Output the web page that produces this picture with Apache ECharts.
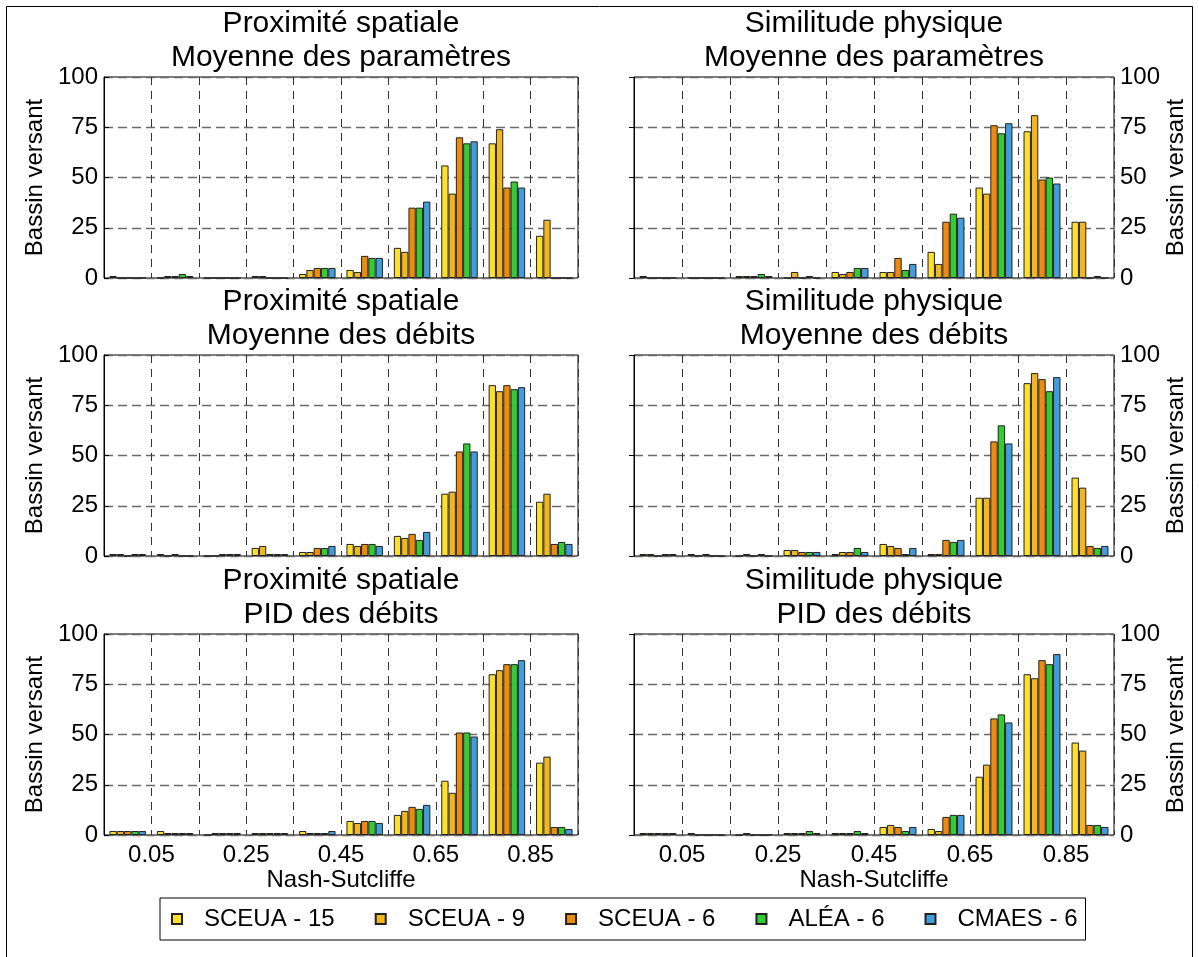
<!DOCTYPE html>
<html>
<head>
<meta charset="utf-8">
<script src="https://cdn.jsdelivr.net/npm/echarts@6/dist/echarts.min.js"></script>
<style>
  html, body { margin: 0; padding: 0; background: #fff; }
  #chart { width: 1199px; height: 957px; }
</style>
</head>
<body>
<div id="chart"></div>
<script>
// series (methods) and colours
const seriesNames = ["SCEUA - 15", "SCEUA - 9", "SCEUA - 6", "ALÉA - 6", "CMAES - 6"];
const seriesColors = ["#fde02c", "#f2b720", "#ec8c0f", "#33cc33", "#419ddb"];

// 10 Nash-Sutcliffe bins
const bins = ["0.0", "0.1", "0.2", "0.3", "0.4", "0.5", "0.6", "0.7", "0.8", "0.9"];
const xTickLabels = ["0.05", "0.25", "0.45", "0.65", "0.85"];
const yTicks = [0, 25, 50, 75, 100];

const panelTitles = [
  "Proximité spatiale\nMoyenne des paramètres",
  "Similitude physique\nMoyenne des paramètres",
  "Proximité spatiale\nMoyenne des débits",
  "Similitude physique\nMoyenne des débits",
  "Proximité spatiale\nPID des débits",
  "Similitude physique\nPID des débits"
];

// counts per bin, one row per method (SCEUA-15, SCEUA-9, SCEUA-6, ALEA-6, CMAES-6)
const proxParams = [
  [1, 0, 0, 1, 2, 4, 15, 56, 67, 21],
  [0, 1, 0, 1, 4, 3, 13, 42, 74, 29],
  [0, 1, 0, 0, 5, 11, 35, 70, 45, 0],
  [0, 2, 0, 0, 5, 10, 35, 67, 48, 0],
  [0, 1, 0, 0, 5, 10, 38, 68, 45, 0]
];
const physParams = [
  [1, 0, 1, 0, 3, 3, 13, 45, 73, 28],
  [0, 0, 1, 3, 2, 3, 7, 42, 81, 28],
  [0, 0, 1, 0, 3, 10, 28, 76, 49, 0],
  [0, 0, 2, 1, 5, 4, 32, 72, 50, 1],
  [0, 0, 1, 0, 5, 7, 30, 77, 47, 0]
];
const proxDebits = [
  [1, 1, 0, 4, 2, 6, 10, 31, 85, 27],
  [1, 0, 0, 5, 2, 5, 9, 32, 82, 31],
  [0, 1, 1, 1, 4, 6, 11, 52, 85, 6],
  [1, 0, 1, 1, 4, 6, 8, 56, 83, 7],
  [1, 0, 1, 1, 5, 5, 12, 52, 84, 6]
];
const physDebits = [
  [1, 1, 0, 3, 1, 6, 1, 29, 86, 39],
  [1, 0, 1, 3, 2, 5, 1, 29, 91, 34],
  [0, 1, 0, 2, 2, 4, 8, 57, 88, 5],
  [1, 0, 1, 2, 4, 1, 7, 65, 82, 4],
  [1, 0, 0, 2, 2, 4, 8, 56, 89, 5]
];
const proxPID = [
  [2, 2, 0, 1, 2, 7, 10, 27, 80, 36],
  [2, 1, 1, 1, 1, 6, 12, 21, 82, 39],
  [2, 1, 1, 1, 1, 7, 14, 51, 85, 4],
  [2, 1, 1, 1, 1, 7, 13, 51, 85, 4],
  [2, 1, 1, 1, 2, 6, 15, 49, 87, 3]
];
const physPID = [
  [1, 1, 0, 1, 1, 4, 3, 29, 80, 46],
  [1, 0, 1, 1, 1, 5, 2, 35, 78, 42],
  [1, 0, 0, 1, 1, 4, 9, 58, 87, 5],
  [1, 0, 0, 2, 2, 2, 10, 60, 85, 5],
  [1, 0, 0, 1, 1, 4, 10, 56, 90, 4]
];
const panels = [proxParams, physParams, proxDebits, physDebits, proxPID, physPID];

const font = '"Liberation Sans", Arial, Helvetica, sans-serif';
const colLeft = [104, 634];
const colWidth = [474, 480];
const rowTop = [77, 355, 634];
const plotHeight = 201;
const titleTop = [7, 285, 564];

const chart = echarts.init(document.getElementById("chart"));

const grid = [], xAxis = [], yAxis = [], title = [], series = [];
panels.forEach(function (data, p) {
  const col = p % 2, row = Math.floor(p / 2);
  const bottomRow = row === 2;
  grid.push({
    left: colLeft[col], top: rowTop[row], width: colWidth[col], height: plotHeight,
    show: true, borderColor: "#000", borderWidth: 1, backgroundColor: "#fff"
  });
  title.push({
    text: panelTitles[p],
    left: colLeft[col] + colWidth[col] / 2,
    top: titleTop[row],
    textAlign: "center",
    padding: 0,
    textStyle: { fontSize: 30, fontWeight: "normal", lineHeight: 34, color: "#000", fontFamily: font }
  });
  // category axis carrying the bars
  xAxis.push({
    type: "category", gridIndex: p, data: bins, show: false
  });
  // value axis for bin edges: gridlines and labels
  xAxis.push({
    type: "value", gridIndex: p, min: 0, max: 10, interval: 1, position: "bottom",
    axisLine: { show: false }, axisTick: { show: false },
    splitLine: { show: true, lineStyle: { color: "#333", width: 1, type: [8, 6] } },
    axisLabel: {
      show: bottomRow, fontSize: 24, color: "#000", fontFamily: font, margin: 8,
      formatter: function (v) { return v % 2 === 1 ? xTickLabels[(v - 1) / 2] : ""; }
    },
    name: bottomRow ? "Nash-Sutcliffe" : "",
    nameLocation: "middle", nameGap: 32,
    nameTextStyle: { fontSize: 24, color: "#000", fontFamily: font }
  });
  yAxis.push({
    type: "value", gridIndex: p, min: yTicks[0], max: yTicks[yTicks.length - 1], interval: 25,
    position: col === 0 ? "left" : "right",
    axisLine: { show: true, lineStyle: { color: "#000" } },
    axisTick: { show: true, inside: true, length: 5, lineStyle: { color: "#000" } },
    axisLabel: { fontSize: 24, color: "#000", fontFamily: font, margin: 6 },
    splitLine: { show: true, lineStyle: { color: "#6a6a6a", width: 1.3, type: [9, 5] } },
    name: "Bassin versant", nameLocation: "middle", nameRotate: 90,
    nameGap: col === 0 ? 57 : 48,
    nameTextStyle: { fontSize: 24, color: "#000", fontFamily: font }
  });
  data.forEach(function (vals, s) {
    series.push({
      type: "bar", name: seriesNames[s], xAxisIndex: 2 * p, yAxisIndex: p,
      data: vals, barGap: "0%", barCategoryGap: "23%",
      itemStyle: { color: seriesColors[s], borderColor: "#222", borderWidth: 1 }
    });
  });
});

chart.setOption({
  animation: false,
  backgroundColor: "#fff",
  title: title,
  grid: grid,
  xAxis: xAxis,
  yAxis: yAxis,
  legend: {
    data: seriesNames, left: 160, top: 898, orient: "horizontal",
    icon: "rect", itemWidth: 10, itemHeight: 10, itemGap: 40,
    padding: [9, 8, 9, 11],
    borderColor: "#000", borderWidth: 1,
    textStyle: { fontSize: 24, color: "#000", fontFamily: font, padding: [0, 0, 0, 17] }
  },
  graphic: [{
    type: "rect", shape: { x: 6.5, y: 6.5, width: 1186, height: 962 },
    style: { fill: null, stroke: "#000", lineWidth: 1 }, silent: true, z: -1
  }],
  series: series
});
</script>
</body>
</html>
